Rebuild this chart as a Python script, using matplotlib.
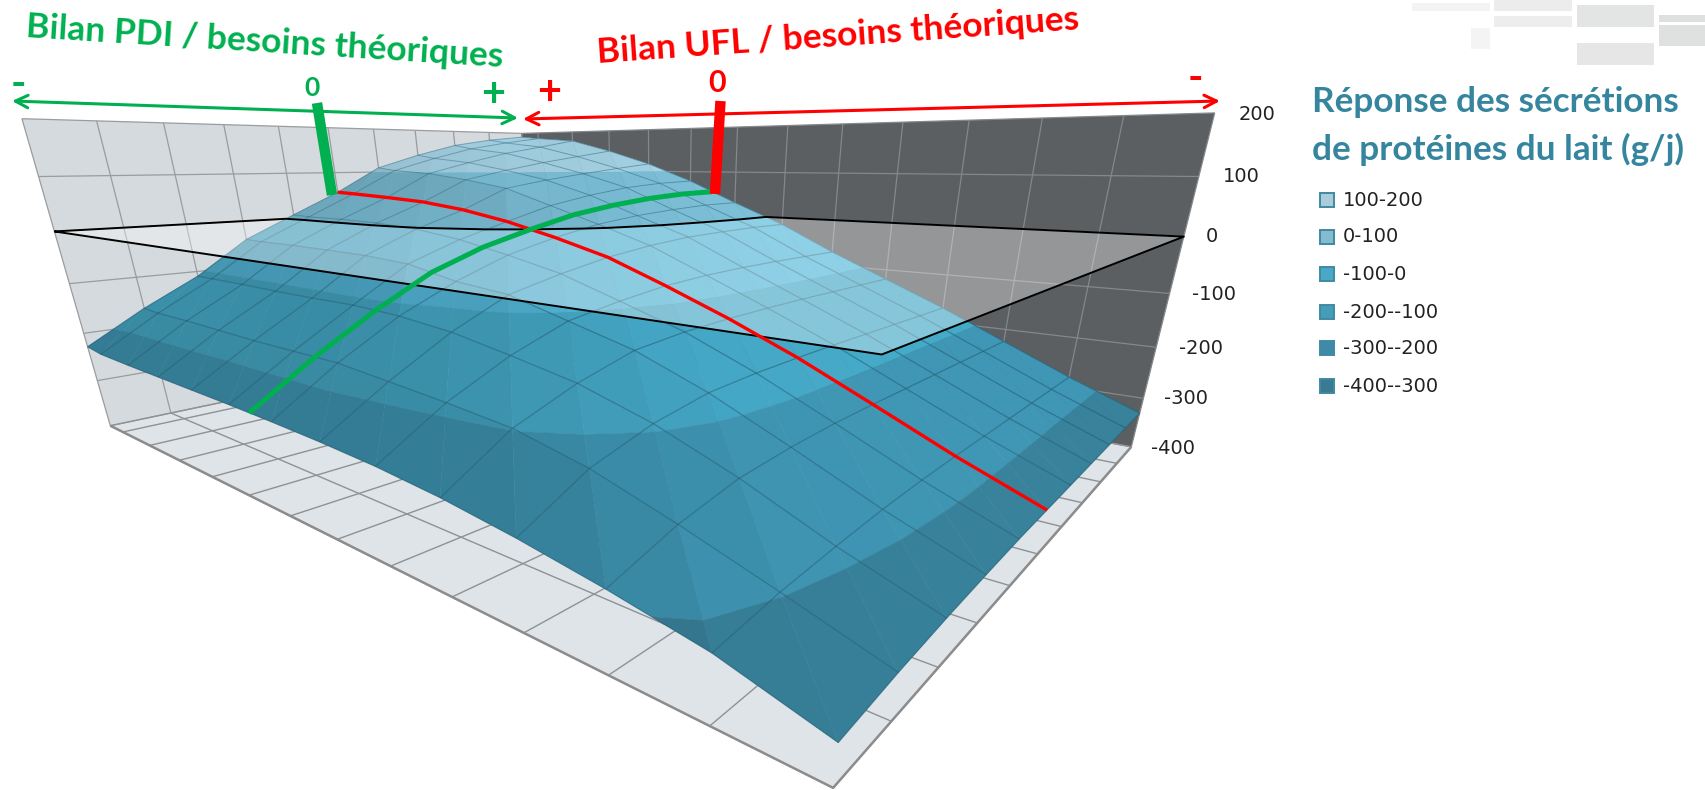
import numpy as np
import matplotlib
matplotlib.use("Agg")
import matplotlib.pyplot as plt
from matplotlib.patches import Rectangle
from mpl_toolkits.mplot3d.art3d import Poly3DCollection, Line3DCollection
import contourpy

# Mesh of the surface (PDI balance along x, UFL balance along y)
x_ticks = np.arange(0, 11)
y_ticks = np.array([0, 0.5, 1.5, 2.5, 3.5, 4.5, 5.5, 6.5, 7.5, 8.5, 9.5, 10.5, 11.5, 12.5])
z_ticks = np.arange(-400, 201, 100)

# Milk protein response, g/d, one row per y tick
Z = np.array([
    [-228, -165, -110, -40,    8,   55,  110,  140,  165,  180,  190],
    [-234, -168, -110, -41,    6,   53,  104,  132,  156,  172,  185],
    [-236, -168, -110, -41,    6,   48,   98,  122,  144,  160,  177],
    [-237, -170, -111, -42,    4,   42,   86,  105,  122,  136,  150],
    [-238, -172, -111, -44,   -2,   30,   70,   85,   97,  108,  118],
    [-239, -172, -110, -50,  -15,   12,   38,   55,   68,   75,   78],
    [-241, -172, -114, -70,  -35,  -12,    6,   17,   24,   29,   30],
    [-244, -180, -124, -80,  -58,  -40,  -28,  -20,  -17,  -15,  -15],
    [-249, -188, -142, -108, -92,  -80,  -74,  -71,  -70,  -70,  -70],
    [-258, -198, -162, -136, -127, -123, -121, -120, -120, -120, -120],
    [-272, -222, -194, -178, -173, -171, -170, -170, -170, -170, -170],
    [-290, -258, -238, -230, -226, -225, -225, -225, -225, -225, -225],
    [-312, -298, -290, -284, -281, -280, -280, -280, -280, -280, -280],
    [-348, -340, -335, -332, -330, -330, -330, -330, -330, -330, -330],
])

band_edges = [-400, -300, -200, -100, 0, 100, 200]
band_colors = ["#38829C", "#3F97B5", "#45A9C8", "#53B7D9", "#7CC0D8", "#A6D4E6"]

legend_labels = ["100-200", "0-100", "-100-0", "-200--100", "-300--200", "-400--300"]
legend_colors = ["#AACCDB", "#85BBD0", "#4AA8C6", "#459DBA", "#3F8AA6", "#3A7A92"]
z_labels = ["200", "100", "0", "-100", "-200", "-300", "-400"]

# index of the PDI = 0 column and of the UFL = 0 position
i_pdi = 5
j_ufl = 5

xmax = x_ticks[-1]
ymax = y_ticks[-1]

# camera: solve the projection from where the box corners sit on the picture (px)
corners_3d = np.array([[0, 0, 200], [xmax, 0, 200], [xmax, ymax, 200],
                       [0, 0, -400], [xmax, 0, -400], [xmax, ymax, -400], [0, ymax, -400],
                       [0, 0, 0], [xmax, ymax, 0], [0, ymax, 0]], dtype=float)
corners_px = np.array([[24, 117.5], [520, 134], [1216, 112],
                       [109, 426], [536, 337], [1131, 446], [832, 787],
                       [54, 231], [1183, 237], [883, 359]], dtype=float)

N = np.diag([1 / xmax, 1 / ymax, 1 / 600, 1.0])
N[2, 3] = 400 / 600
rows = []
for p, q in zip(corners_3d, corners_px):
    h = N @ np.append(p, 1)
    rows.append(np.r_[h, 0, 0, 0, 0, -q[0] * h])
    rows.append(np.r_[0, 0, 0, 0, h, -q[1] * h])
P = np.linalg.svd(np.array(rows))[2][-1].reshape(3, 4) @ N
if (P[2] @ np.array([xmax / 2, ymax / 2, 0, 1])) < 0:
    P = -P
M = np.vstack([P[0], P[1], [0, 0, 0, -1], P[2]])

fig = plt.figure(figsize=(17.06, 7.90), dpi=100)
ax = fig.add_axes([0, 0, 1, 1], projection="3d", computed_zorder=False)
ax.apply_aspect = lambda position=None: None
ax.get_proj = lambda: M
ax.viewLim.intervalx = (0, 1706)
ax.viewLim.intervaly = (790, 0)
ax.set_axis_off()
ax.patch.set_visible(False)

# walls and floor
left_wall = [[(0, 0, -400), (xmax, 0, -400), (xmax, 0, 200), (0, 0, 200)]]
right_wall = [[(xmax, 0, -400), (xmax, ymax, -400), (xmax, ymax, 200), (xmax, 0, 200)]]
floor = [[(0, 0, -400), (xmax, 0, -400), (xmax, ymax, -400), (0, ymax, -400)]]
ax.add_collection3d(Poly3DCollection(left_wall, facecolors="#D5DADE", edgecolors="none", zorder=1))
ax.add_collection3d(Poly3DCollection(right_wall, facecolors="#5B5F62", edgecolors="none", zorder=1))
ax.add_collection3d(Poly3DCollection(floor, facecolors="#DEE4E8", edgecolors="none", zorder=1))

grid_left = []
grid_right = []
grid_floor = []
for xv in x_ticks:
    grid_left.append([(xv, 0, -400), (xv, 0, 200)])
    grid_floor.append([(xv, 0, -400), (xv, ymax, -400)])
for yv in y_ticks:
    grid_right.append([(xmax, yv, -400), (xmax, yv, 200)])
    grid_floor.append([(0, yv, -400), (xmax, yv, -400)])
for zv in z_ticks:
    grid_left.append([(0, 0, zv), (xmax, 0, zv)])
    grid_right.append([(xmax, 0, zv), (xmax, ymax, zv)])
ax.add_collection3d(Line3DCollection(grid_left, colors="#9A9C9E", linewidths=0.9, zorder=1.1))
ax.add_collection3d(Line3DCollection(grid_right, colors="#85888A", linewidths=0.9, zorder=1.1))
ax.add_collection3d(Line3DCollection(grid_floor, colors="#8F9294", linewidths=1.0, zorder=1.1))
ax.add_collection3d(Line3DCollection([[(0, 0, -400), (0, ymax, -400), (xmax, ymax, -400)]],
                                     colors="#8C8C8C", linewidths=1.8, zorder=1.2))


def clip_z(poly, lo, hi):
    # keep the part of a polygon between two heights
    for level, sign in ((lo, 1), (hi, -1)):
        out = []
        for k in range(len(poly)):
            a = poly[k]
            b = poly[(k + 1) % len(poly)]
            da = sign * (a[2] - level)
            db = sign * (b[2] - level)
            if da >= 0:
                out.append(a)
            if da * db < 0:
                out.append(a + (b - a) * da / (da - db))
        poly = out
        if len(poly) == 0:
            break
    return poly


def shaded(hexcol, f):
    rgb = np.array(matplotlib.colors.to_rgb(hexcol)) * f
    return tuple(np.clip(rgb, 0, 1))


low_polys, low_cols, high_polys, high_cols = [], [], [], []
for j in range(len(y_ticks) - 1):
    for i in range(len(x_ticks) - 1):
        a = np.array([x_ticks[i], y_ticks[j], Z[j, i]], dtype=float)
        b = np.array([x_ticks[i + 1], y_ticks[j], Z[j, i + 1]], dtype=float)
        c = np.array([x_ticks[i + 1], y_ticks[j + 1], Z[j + 1, i + 1]], dtype=float)
        d = np.array([x_ticks[i], y_ticks[j + 1], Z[j + 1, i]], dtype=float)
        for tri in ([a, b, d], [b, c, d]):
            n = np.cross(tri[1] - tri[0], tri[2] - tri[0])
            dzdx = -n[0] / n[2]
            f = np.clip(1 - 0.0028 * max(dzdx, 0), 0.82, 1.05)
            for b_i in range(len(band_colors)):
                poly = clip_z(tri, band_edges[b_i], band_edges[b_i + 1])
                if len(poly) < 3:
                    continue
                col = shaded(band_colors[b_i], f)
                if band_edges[b_i] < 0:
                    low_polys.append(np.array(poly))
                    low_cols.append(col)
                else:
                    high_polys.append(np.array(poly))
                    high_cols.append(col)

ax.add_collection3d(Poly3DCollection(low_polys, facecolors=low_cols, edgecolors=low_cols,
                                     linewidths=0.3, zorder=2))
ax.add_collection3d(Poly3DCollection(high_polys, facecolors=high_cols, edgecolors=high_cols,
                                     linewidths=0.3, zorder=4))

# mesh lines, cut at z = 0 because the plane sits between the two parts
mesh_low, mesh_high = [], []
mesh_lines = []
for j in range(len(y_ticks)):
    mesh_lines.append(np.c_[x_ticks, np.full(len(x_ticks), y_ticks[j]), Z[j, :]])
for i in range(len(x_ticks)):
    mesh_lines.append(np.c_[np.full(len(y_ticks), x_ticks[i]), y_ticks, Z[:, i]])
for line in mesh_lines:
    for k in range(len(line) - 1):
        p, q = line[k], line[k + 1]
        if p[2] * q[2] < 0:
            m = p + (q - p) * p[2] / (p[2] - q[2])
            seg_a, seg_b = [p, m], [m, q]
        else:
            seg_a, seg_b = [p, q], None
        for seg in (seg_a, seg_b):
            if seg is None:
                continue
            if seg[0][2] + seg[1][2] < 0:
                mesh_low.append(seg)
            else:
                mesh_high.append(seg)
ax.add_collection3d(Line3DCollection(mesh_low, colors=[(0.13, 0.35, 0.43, 0.5)], linewidths=0.9, zorder=2.5))
ax.add_collection3d(Line3DCollection(mesh_high, colors=[(0.13, 0.35, 0.43, 0.4)], linewidths=0.7, zorder=4.5))

# translucent plane at z = 0, cut around the top of the surface
zero_line = contourpy.contour_generator(x_ticks, y_ticks, Z).lines(0)[0]
if zero_line[0, 1] > zero_line[-1, 1]:
    zero_line = zero_line[::-1]
plane = [(0, 0, 0)] + [(p[0], p[1], 0) for p in zero_line] + [(xmax, ymax, 0), (0, ymax, 0)]
ax.add_collection3d(Poly3DCollection([plane], facecolors=(1, 1, 1, 0.35), edgecolors="none", zorder=3))
ax.add_collection3d(Line3DCollection([plane + plane[:1]], colors="black", linewidths=1.4, zorder=6))

# curves on the surface
red_curve = np.c_[np.full(len(y_ticks), x_ticks[i_pdi]), y_ticks, Z[:, i_pdi]]
ax.add_collection3d(Line3DCollection([red_curve], colors="#FF0000", linewidths=2.4, zorder=7))
green_y = (y_ticks[j_ufl] + y_ticks[j_ufl + 1]) / 2
green_curve = np.c_[x_ticks, np.full(len(x_ticks), green_y), (Z[j_ufl, :] + Z[j_ufl + 1, :]) / 2]
ax.add_collection3d(Line3DCollection([green_curve], colors="#00B050", linewidths=3.6, zorder=7.5))

# everything flat goes on a second axes in picture pixels
top = fig.add_axes([0, 0, 1, 1])
top.set_xlim(0, 1706)
top.set_ylim(790, 0)
top.axis("off")
top.patch.set_visible(False)

decor = [(1412, 3, 78, 8, "#F3F3F3"), (1494, 0, 78, 11, "#EBECEB"), (1494, 16, 78, 11, "#ECEDEC"),
         (1577, 5, 77, 22, "#E3E5E4"), (1659, 15, 47, 7, "#DEDFDE"), (1659, 25, 47, 21, "#DFE1E0"),
         (1471, 28, 19, 21, "#F4F4F4"), (1577, 43, 77, 22, "#E5E6E5")]
for dx, dy, dw, dh, dc in decor:
    top.add_patch(Rectangle((dx, dy), dw, dh, facecolor=dc, edgecolor="none"))

GREEN = "#00B050"
RED = "#FF0000"
TEAL = "#35859F"
title_font = "Lato"

top.text(265, 42, "Bilan PDI / besoins théoriques", color=GREEN, fontsize=25.5, fontweight="bold",
         family=title_font, rotation=-3.6, ha="center", va="center", rotation_mode="anchor")
top.text(838, 36, "Bilan UFL / besoins théoriques", color=RED, fontsize=25.5, fontweight="bold",
         family=title_font, rotation=4, ha="center", va="center", rotation_mode="anchor")

top.annotate("", xy=(12, 101), xytext=(518, 118),
             arrowprops=dict(arrowstyle="<->,head_length=0.9,head_width=0.45", color=GREEN, lw=2.2, shrinkA=0, shrinkB=0))
top.annotate("", xy=(523, 119), xytext=(1220, 101),
             arrowprops=dict(arrowstyle="<->,head_length=0.9,head_width=0.45", color=RED, lw=2.2, shrinkA=0, shrinkB=0))
top.plot([317, 332], [103, 195], color=GREEN, lw=7.5, solid_capstyle="butt")
top.plot([720.5, 715], [101, 194], color=RED, lw=7.5, solid_capstyle="butt")

for tx, ty, ts, tc, tf in [(18, 85, "-", GREEN, 30), (312, 88, "0", GREEN, 19), (493, 95, "+", GREEN, 30),
                           (549, 93, "+", RED, 30), (717, 83, "0", RED, 22), (1195, 79, "-", RED, 30)]:
    top.text(tx, ty, ts, color=tc, fontsize=tf, fontweight="bold", family=title_font, ha="center", va="center")

# z axis labels
z_label_x = [1257, 1241, 1212, 1214, 1201, 1186, 1173]
z_label_y = [114, 177, 237, 295, 348, 399, 448]
for lx, ly, ls in zip(z_label_x, z_label_y, z_labels):
    top.text(lx, ly, ls, fontsize=14, color="#222222", ha="center", va="center")

# legend
top.text(1312, 102, "Réponse des sécrétions", color=TEAL, fontsize=25.3, fontweight="bold",
         family=title_font, ha="left", va="center")
top.text(1312, 149, "de protéines du lait (g/j)", color=TEAL, fontsize=25.3, fontweight="bold",
         family=title_font, ha="left", va="center")
legend_y = [200, 237, 274, 312, 348, 386]
for ly, ls, lc in zip(legend_y, legend_labels, legend_colors):
    top.add_patch(Rectangle((1320, ly - 7), 14, 14, facecolor=lc, edgecolor="#3F8AA3", lw=1.4))
    top.text(1343, ly, ls, fontsize=14, color="#222222", ha="left", va="center")

fig.savefig("out.png", dpi=100)
